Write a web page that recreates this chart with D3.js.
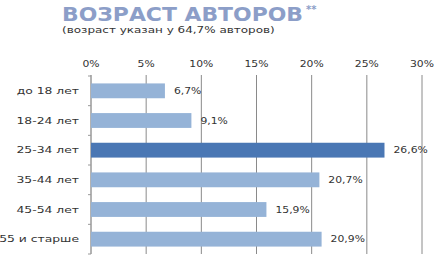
<!DOCTYPE html>
<html lang="ru"><head>
<meta charset="UTF-8">
<title>Возраст авторов</title>
<script src="https://cdn.jsdelivr.net/npm/d3@7"></script>
<style>
body { margin: 0; background: #fff; }
text { font-family: "DejaVu Sans", Verdana, sans-serif; }
</style>
</head>
<body>
<script>
var categories = ["до 18 лет", "18-24 лет", "25-34 лет", "35-44 лет", "45-54 лет", "55 и старше"];
var values = [6.7, 9.1, 26.6, 20.7, 15.9, 20.9];
var tickValues = [0, 5, 10, 15, 20, 25, 30];
var highlight = "25-34 лет";

var width = 436, height = 258;
var svg = d3.select("body").append("svg")
  .attr("width", width).attr("height", height);

// the original text is drawn wider than DejaVu, so stretch it a bit
function stretch(sel, k) {
  sel.each(function(){
    var len = this.getComputedTextLength();
    d3.select(this).attr("textLength", len * k).attr("lengthAdjust", "spacingAndGlyphs");
  });
}

svg.append("text")
  .attr("x", 62).attr("y", 21)
  .attr("font-size", 19).attr("font-weight", "bold")
  .attr("fill", "#8c9ec8")
  .attr("textLength", 241).attr("lengthAdjust", "spacingAndGlyphs")
  .text("ВОЗРАСТ АВТОРОВ");

svg.append("text")
  .attr("x", 306).attr("y", 13)
  .attr("font-size", 10).attr("font-weight", "bold")
  .attr("fill", "#8c9ec8")
  .text("**");

svg.append("text")
  .attr("x", 62).attr("y", 33)
  .attr("font-size", 9).attr("fill", "#333")
  .text("(возраст указан у 64,7% авторов)")
  .call(stretch, 1.33);

var x = d3.scaleLinear().domain([0, 30]).range([91, 422]);
var y = d3.scaleBand().domain(categories).range([76, 254]).paddingInner(0.5).paddingOuter(0.25);

// gridlines
svg.selectAll(".grid").data(tickValues).enter().append("line")
  .attr("x1", function(d){ return x(d); })
  .attr("x2", function(d){ return x(d); })
  .attr("y1", 75).attr("y2", 254)
  .attr("stroke", function(d){ return d == 0 ? "#666" : "#8a8a8a"; })
  .attr("stroke-width", 1);

svg.selectAll(".tick-label").data(tickValues).enter().append("text")
  .attr("x", function(d){ return x(d); })
  .attr("y", 67)
  .attr("text-anchor", "middle")
  .attr("font-size", 9).attr("fill", "#333")
  .text(function(d){ return d + "%"; })
  .call(stretch, 1.2);

// small ticks on the category axis
var step = y.step();
d3.range(categories.length + 1).forEach(function(i){
  var yy = 76 + i * (178 / categories.length);
  svg.append("line")
    .attr("x1", x(0) - 3).attr("x2", x(0))
    .attr("y1", yy).attr("y2", yy)
    .attr("stroke", "#999");
});

svg.selectAll(".bar").data(values).enter().append("rect")
  .attr("x", x(0))
  .attr("y", function(d, i){ return y(categories[i]); })
  .attr("width", function(d){ return x(d) - x(0); })
  .attr("height", y.bandwidth())
  .attr("fill", function(d, i){ return categories[i] == highlight ? "#4a77b4" : "#95b3d7"; });

svg.selectAll(".val").data(values).enter().append("text")
  .attr("x", function(d){ return x(d) + 9; })
  .attr("y", function(d, i){ return y(categories[i]) + y.bandwidth() / 2 + 3; })
  .attr("font-size", 9).attr("fill", "#333")
  .text(function(d){ return d.toFixed(1).replace(".", ",") + "%"; })
  .call(stretch, 1.2);

svg.selectAll(".cat").data(categories).enter().append("text")
  .attr("x", 79)
  .attr("y", function(d){ return y(d) + y.bandwidth() / 2 + 3; })
  .attr("text-anchor", "end")
  .attr("font-size", 9.5).attr("fill", "#333")
  .text(function(d){ return d; })
  .call(stretch, 1.3);
</script>
</body></html>
